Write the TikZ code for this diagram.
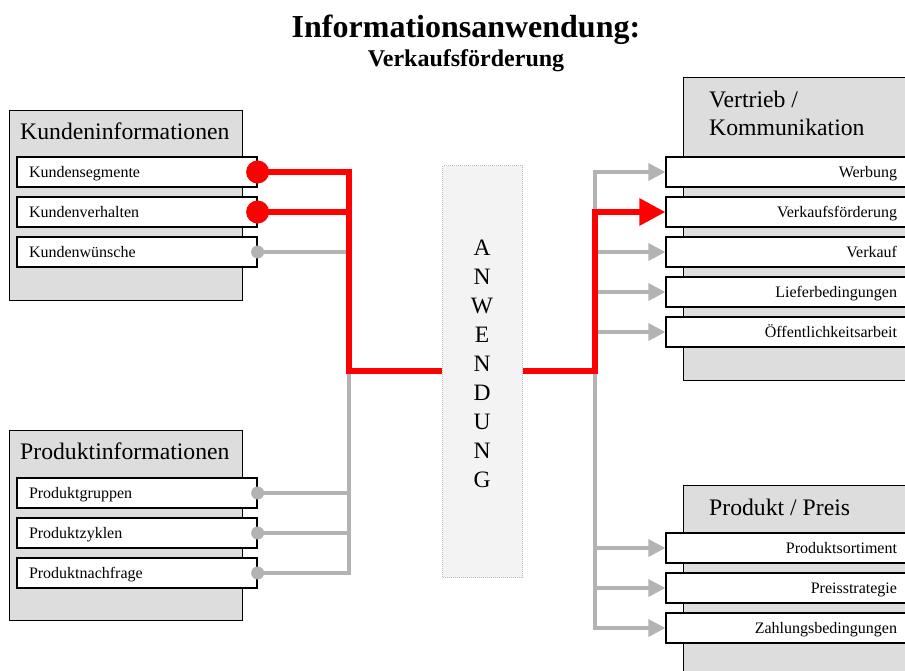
\documentclass[tikz,border=0pt]{standalone}
\usepackage{fontspec}
\setmainfont{Liberation Serif}
\usetikzlibrary{arrows.meta}
\definecolor{panelgray}{HTML}{DDDDDD}
\definecolor{wiregray}{HTML}{B3B3B3}
\definecolor{hotred}{HTML}{FF0000}
\definecolor{coregray}{HTML}{F3F3F3}
\definecolor{coreedge}{HTML}{BBBBBB}
\begin{document}
\begin{tikzpicture}[x=1pt,y=-1pt,
  panel/.style={draw=black, line width=1.2pt, fill=panelgray, inner sep=0pt, anchor=north west},
  paneltitle/.style={anchor=base west, inner sep=0pt, font=\fontsize{23.7}{28}\selectfont},
  item/.style={draw=black, line width=1.2pt, fill=white, minimum height=30pt, inner sep=0pt,
    font=\fontsize{16}{18}\selectfont, text height=11pt, text depth=0pt},
  itemL/.style={item, minimum width=240pt, text width=216pt, align=left},
  itemR/.style={item, minimum width=246pt, text width=216pt, align=right},
  hotline/.style={draw=hotred, line width=6pt, line join=miter},
  wireline/.style={draw=wiregray, line width=3.5pt, line cap=rect, line join=miter},
  wirearrow/.style={wireline, -{Triangle[length=17pt,width=17pt]}},
  hotarrow/.style={hotline, -{Triangle[length=26pt,width=26pt]}},
  letter/.style={anchor=base, inner sep=0pt, font=\fontsize{23.5}{28}\selectfont}
]
\useasboundingbox (0,0) rectangle (905,670);
\clip (0,0) rectangle (905,670);

% headings
\node[anchor=base, inner sep=0pt, font=\bfseries\fontsize{32}{36}\selectfont] (title) at (466,37) {Informationsanwendung:};
\node[anchor=base, inner sep=0pt, font=\bfseries\fontsize{24}{28}\selectfont] (subtitle) at (466,66) {Verkaufsförderung};

% source panels
\node[panel, minimum width=233pt, minimum height=190pt] (kinfo) at (9,110) {};
\node[paneltitle] (kinfoT) at (20,139) {Kundeninformationen};
\node[itemL] (ks) at (137,172) {Kundensegmente};
\node[itemL] (kv) at (137,212) {Kundenverhalten};
\node[itemL] (kw) at (137,252) {Kundenwünsche};

\node[panel, minimum width=233pt, minimum height=190pt] (pinfo) at (9,430) {};
\node[paneltitle] (pinfoT) at (20,459) {Produktinformationen};
\node[itemL] (pg) at (137,493) {Produktgruppen};
\node[itemL] (pz) at (137,533) {Produktzyklen};
\node[itemL] (pn) at (137,573) {Produktnachfrage};

% target panels
\node[panel, minimum width=240pt, minimum height=303pt] (vkom) at (683,77) {};
\node[paneltitle] (vkomT1) at (709,107) {Vertrieb /};
\node[paneltitle] (vkomT2) at (709,135) {Kommunikation};
\node[itemR] (wb) at (789,172) {Werbung};
\node[itemR] (vf) at (789,212) {Verkaufsförderung};
\node[itemR] (vk) at (789,252) {Verkauf};
\node[itemR] (lb) at (789,292) {Lieferbedingungen};
\node[itemR] (oa) at (789,332) {Öffentlichkeitsarbeit};

\node[panel, minimum width=240pt, minimum height=200pt] (ppreis) at (683,485) {};
\node[paneltitle] (ppreisT) at (709,515) {Produkt / Preis};
\node[itemR] (ps) at (789,548) {Produktsortiment};
\node[itemR] (pr) at (789,588) {Preisstrategie};
\node[itemR] (zb) at (789,628) {Zahlungsbedingungen};

% central application column
\node[draw=coreedge, densely dotted, line width=1pt, fill=coregray, inner sep=0pt,
      minimum width=80pt, minimum height=412pt, anchor=north west] (anw) at (442,165) {};
\foreach \ch [count=\i from 0] in {A,N,W,E,N,D,U,N,G}
  \node[letter] (l\i) at (482,255+29*\i) {\ch};

% bus junctions
\coordinate (jL) at (349,371);
\coordinate (jR) at (595,371);

% grey connectors, left side
\draw[wireline] (kw.east) -| (pn.east -| jL) -- (pn.east);
\draw[wireline] (pg.east) -- (pg.east -| jL);
\draw[wireline] (pz.east) -- (pz.east -| jL);

% grey connectors, right side
\draw[wirearrow] (zb.west -| jR) |- (wb.west);
\draw[wirearrow] (vk.west -| jR) -- (vk.west);
\draw[wirearrow] (lb.west -| jR) -- (lb.west);
\draw[wirearrow] (oa.west -| jR) -- (oa.west);
\draw[wirearrow] (ps.west -| jR) -- (ps.west);
\draw[wirearrow] (pr.west -| jR) -- (pr.west);
\draw[wirearrow] (zb.west -| jR) -- (zb.west);

% highlighted path
\draw[hotline] (ks.east) -| (jL) -- (jL -| anw.west);
\draw[hotline] (kv.east) -- (kv.east -| jL);
\draw[hotarrow] (jR -| anw.east) -- (jR) |- (vf.west);

% connector dots
\fill[hotred] (ks.east) circle (11.5pt);
\fill[hotred] (kv.east) circle (11.5pt);
\foreach \n in {kw,pg,pz,pn}
  \fill[wiregray] (\n.east) circle (6.5pt);
\end{tikzpicture}
\end{document}
